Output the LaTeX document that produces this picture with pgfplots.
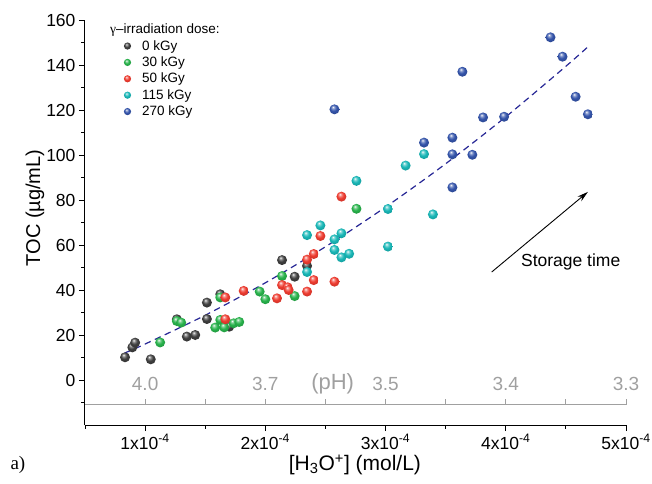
\documentclass[border=0pt]{standalone}
\usepackage{pgfplots}
\pgfplotsset{compat=1.18}
\usepackage{fontspec}
\setmainfont{Liberation Sans}
\newfontfamily\seriffont{Liberation Serif}
\usetikzlibrary{arrows.meta}
\definecolor{c0}{RGB}{62,62,62}
\definecolor{c30}{RGB}{40,178,75}
\definecolor{c50}{RGB}{238,60,48}
\definecolor{c115}{RGB}{25,183,183}
\definecolor{c270}{RGB}{52,84,170}
\definecolor{fitc}{RGB}{40,40,150}
\definecolor{phgray}{RGB}{160,160,160}
\pgfdeclareradialshading{shA}{\pgfpoint{-8bp}{12bp}}{color(0bp)=(white); color(6bp)=(c0!55!white); color(16bp)=(c0); color(30bp)=(c0!85!black); color(50bp)=(c0!75!black)}
\pgfdeclareradialshading{shB}{\pgfpoint{-8bp}{12bp}}{color(0bp)=(white); color(6bp)=(c30!55!white); color(16bp)=(c30); color(30bp)=(c30!85!black); color(50bp)=(c30!75!black)}
\pgfdeclareradialshading{shC}{\pgfpoint{-8bp}{12bp}}{color(0bp)=(white); color(6bp)=(c50!55!white); color(16bp)=(c50); color(30bp)=(c50!85!black); color(50bp)=(c50!75!black)}
\pgfdeclareradialshading{shD}{\pgfpoint{-8bp}{12bp}}{color(0bp)=(white); color(6bp)=(c115!55!white); color(16bp)=(c115); color(30bp)=(c115!85!black); color(50bp)=(c115!75!black)}
\pgfdeclareradialshading{shE}{\pgfpoint{-8bp}{12bp}}{color(0bp)=(white); color(6bp)=(c270!55!white); color(16bp)=(c270); color(30bp)=(c270!85!black); color(50bp)=(c270!75!black)}
\pgfdeclareplotmark{ballA}{\pgfpathcircle{\pgfpointorigin}{\pgfplotmarksize}\pgfshadepath{shA}{0}\pgfusepath{discard}}
\pgfdeclareplotmark{ballB}{\pgfpathcircle{\pgfpointorigin}{\pgfplotmarksize}\pgfshadepath{shB}{0}\pgfusepath{discard}}
\pgfdeclareplotmark{ballC}{\pgfpathcircle{\pgfpointorigin}{\pgfplotmarksize}\pgfshadepath{shC}{0}\pgfusepath{discard}}
\pgfdeclareplotmark{ballD}{\pgfpathcircle{\pgfpointorigin}{\pgfplotmarksize}\pgfshadepath{shD}{0}\pgfusepath{discard}}
\pgfdeclareplotmark{ballE}{\pgfpathcircle{\pgfpointorigin}{\pgfplotmarksize}\pgfshadepath{shE}{0}\pgfusepath{discard}}
\begin{document}
\begin{tikzpicture}
\useasboundingbox (-85pt,-58pt) rectangle (567pt,425pt);
\begin{axis}[
  at={(0pt,0pt)}, anchor=south west,
  scale only axis, width=541pt, height=405pt,
  xmin=0.5, xmax=5, ymin=-20, ymax=160,
  axis lines*=left,
  axis line style={line width=1pt},
  clip=false,
  xtick={1,2,3,4,5},
  xticklabels={1x10\textsuperscript{-4},2x10\textsuperscript{-4},3x10\textsuperscript{-4},4x10\textsuperscript{-4},5x10\textsuperscript{-4}},
  minor xtick={0.5,1.5,2.5,3.5,4.5},
  ytick={0,20,...,160},
  minor ytick={-10,10,...,150},
  tick align=outside,
  major tick length=6pt, minor tick length=3.5pt,
  tick style={line width=0.9pt, black},
  ticklabel style={font=\fontsize{17.5}{20}\selectfont},
  /pgf/number format/assume math mode=true,
  xlabel={[H\textsubscript{3}O\textsuperscript{+}] (mol/L)},
  ylabel={TOC (µg/mL)},
  xlabel style={font=\fontsize{21}{24}\selectfont, at={(axis description cs:0.499,-0.0988)}, anchor=center},
  ylabel style={font=\fontsize{20}{23}\selectfont, at={(axis description cs:-0.0924,0.536)}, anchor=center},
  legend cell align=left,
  legend style={draw=none, fill=none, at={(axis description cs:0.066,0.96)}, anchor=north west,
    font=\fontsize{13.5}{15}\selectfont, row sep=1.1pt,
    /tikz/every odd column/.append style={column sep=9pt}},
  legend image code/.code={\pgfplotsset{mark size=3.6pt}\draw[#1] plot coordinates {(0.3cm,0cm)};},
]
% fit line
\addplot[forget plot, color=fitc, line width=1.2pt, dash pattern=on 6.5pt off 4.5pt, smooth] coordinates {
(0.83,12.0) (1.0,15.99) (1.5,28.79) (2.0,43.20) (2.5,59.22) (3.0,76.87) (3.5,96.11) (4.0,116.97) (4.5,139.44) (4.69,148.4)};

\addplot[only marks, mark=ballA, mark size=5pt] table {
x y
0.833 10.1
0.894 14.5
0.917 16.6
1.047 9.2
1.264 27.0
1.347 19.3
1.417 20.0
1.514 34.4
1.514 27.1
1.625 38.1
1.700 23.7
2.139 53.3
2.244 45.9
2.347 50.7
};
\addlegendentry{0 kGy}
\addplot[only marks, mark=ballB, mark size=5pt] table {
x y
1.125 16.7
1.264 26.2
1.300 25.5
1.583 23.3
1.625 26.7
1.625 36.7
1.658 23.4
1.736 25.2
1.783 25.8
1.953 39.3
2.000 35.9
2.139 46.2
2.244 37.3
2.758 76.1
};
\addlegendentry{30 kGy}
\addplot[only marks, mark=ballC, mark size=5pt] table {
x y
1.667 36.7
1.667 27.0
1.820 39.6
2.097 36.3
2.139 42.2
2.186 41.2
2.194 40.0
2.347 39.3
2.403 44.4
2.575 43.7
2.347 53.5
2.403 56.0
2.458 64.0
2.633 81.5
};
\addlegendentry{50 kGy}
\addplot[only marks, mark=ballD, mark size=5pt] table {
x y
2.347 48.0
2.347 64.4
2.458 68.7
2.575 62.5
2.575 57.8
2.633 65.2
2.633 54.5
2.697 56.1
2.758 88.5
3.020 76.0
3.020 59.3
3.167 95.3
3.320 100.4
3.394 73.6
};
\addlegendentry{115 kGy}
\addplot[only marks, mark=ballE, mark size=5pt] table {
x y
2.575 120.3
3.320 105.5
3.556 107.7
3.556 100.3
3.556 85.6
3.639 137.0
3.722 100.1
3.811 116.7
3.986 117.0
4.372 152.3
4.472 143.7
4.581 125.9
4.683 118.1
};
\addlegendentry{270 kGy}

% legend title
\node[anchor=west, font=\fontsize{13.5}{15}\selectfont, inner sep=0pt] at (axis description cs:0.046,0.975) {{\seriffont γ}–irradiation dose:};

% pH secondary scale
\draw[phgray, line width=1pt] (axis cs:0.5,-11) -- (axis cs:5,-11);
\draw[phgray, line width=0.9pt] (axis cs:1,-11) -- (axis cs:1,-8.6);
\draw[phgray, line width=0.9pt] (axis cs:1.5,-11) -- (axis cs:1.5,-8.6);
\draw[phgray, line width=0.9pt] (axis cs:2,-11) -- (axis cs:2,-8.6);
\draw[phgray, line width=0.9pt] (axis cs:2.5,-11) -- (axis cs:2.5,-8.6);
\draw[phgray, line width=0.9pt] (axis cs:3,-11) -- (axis cs:3,-8.6);
\draw[phgray, line width=0.9pt] (axis cs:3.5,-11) -- (axis cs:3.5,-8.6);
\draw[phgray, line width=0.9pt] (axis cs:4,-11) -- (axis cs:4,-8.6);
\draw[phgray, line width=0.9pt] (axis cs:4.5,-11) -- (axis cs:4.5,-8.6);
\draw[phgray, line width=0.9pt] (axis cs:5,-11) -- (axis cs:5,-8.6);
\node[phgray, font=\fontsize{19}{22}\selectfont] at (axis cs:1,-1.8) {4.0};
\node[phgray, font=\fontsize{19}{22}\selectfont] at (axis cs:2,-1.8) {3.7};
\node[phgray, font=\fontsize{22}{25}\selectfont] at (axis cs:2.56,-1.6) {(pH)};
\node[phgray, font=\fontsize{19}{22}\selectfont] at (axis cs:3,-1.8) {3.5};
\node[phgray, font=\fontsize{19}{22}\selectfont] at (axis cs:4,-1.8) {3.4};
\node[phgray, font=\fontsize{19}{22}\selectfont] at (axis cs:5,-1.8) {3.3};

% storage time arrow
\draw[line width=0.9pt, -{Stealth[length=11pt, width=6pt]}] (axis cs:3.883,48) -- (axis cs:4.683,83.6);
\node[font=\fontsize{17.5}{20}\selectfont] at (axis cs:4.54,52.4) {Storage time};

% panel label
\node[font=\seriffont\fontsize{19}{22}\selectfont] at (axis description cs:-0.124,-0.0988) {a)};
\end{axis}
\end{tikzpicture}
\end{document}
